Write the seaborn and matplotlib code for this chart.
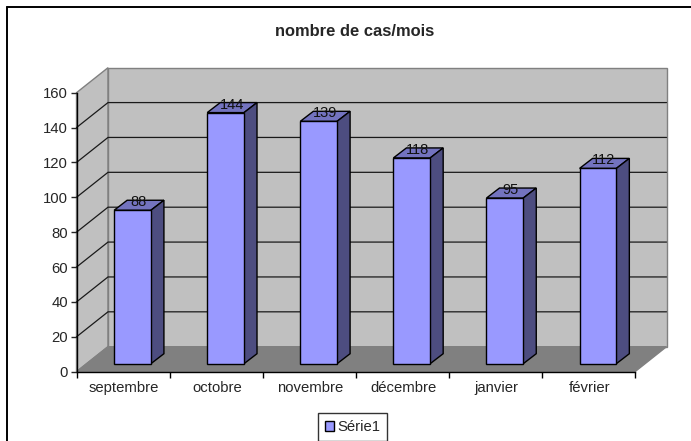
import matplotlib
matplotlib.use('Agg')
import matplotlib.pyplot as plt
import pandas as pd
import seaborn as sns
from matplotlib.patches import Polygon
from matplotlib.transforms import Affine2D

months = ['septembre', 'octobre', 'novembre', 'décembre', 'janvier', 'février']
cases = [88, 144, 139, 118, 95, 112]
series_name = 'Série1'
chart_title = 'nombre de cas/mois'
y_ticks = [0, 20, 40, 60, 80, 100, 120, 140, 160]

W, H = 691, 441
data = pd.DataFrame({'mois': months, 'cas': cases})

sns.set_style('ticks')
plt.rcParams['font.family'] = ['Liberation Sans', 'DejaVu Sans']

fig = plt.figure(figsize=(W / 100, H / 100), dpi=100)
fig.patch.set_facecolor('white')
ax = fig.add_axes([76.5 / W, 1 - 371.7 / H, 558.5 / W, 279 / H])
ax.patch.set_visible(False)
ax.set_zorder(1)

sns.barplot(data=data, x='mois', y='cas', color='#9999FF', saturation=1, width=0.395,
            edgecolor='black', linewidth=1, ax=ax, zorder=5, label=series_name)
handles, labels = ax.get_legend_handles_labels()
ax.get_legend().remove()
ax.set_xlim(-0.5, 5.5)
ax.set_ylim(0, 160)
ax.set_yticks(y_ticks)
ax.set_xlabel('')
ax.set_ylabel('')
fig.canvas.draw()

# depth of the fake 3d box, in pixels
DX, DY = 31.5, 25
bar_dx, bar_dy = 9.5, 8
side_dx, side_dy = 13, 10


def px(x, y, dx=0, dy=0):
    p = ax.transData.transform((x, y))
    return (p[0] + dx, p[1] + dy)


def face(points, color, edge, z, lw=1.0):
    fig.add_artist(Polygon(points, closed=True, facecolor=color, edgecolor=edge, linewidth=lw,
                           transform=None, zorder=z))


# walls and floor
face([px(-0.5, 0), px(-0.5, 160), px(-0.5, 160, DX, DY), px(-0.5, 0, DX, DY)], '#C0C0C0', '#808080', 0.1)
face([px(-0.5, 0, DX, DY), px(-0.5, 160, DX, DY), px(5.5, 160, DX, DY), px(5.5, 0, DX, DY)], '#C0C0C0', '#808080', 0.1)
face([px(-0.5, 0), px(5.5, 0), px(5.5, 0, DX, DY), px(-0.5, 0, DX, DY)], '#808080', '#808080', 0.2)

# gridlines on both walls
for v in y_ticks[1:-1]:
    xs, ys = zip(px(-0.5, v), px(-0.5, v, DX, DY), px(5.5, v, DX, DY))
    fig.add_artist(plt.Line2D(xs, ys, color='#1a1a1a', linewidth=0.9, transform=None, zorder=0.3))

# bars: shift the front faces, then add top and side
shift = Affine2D().translate(bar_dx, bar_dy)
for patch, n in zip(ax.patches, cases):
    patch.set_transform(ax.transData + shift)
    patch.set_clip_on(False)
    x0, x1 = patch.get_x(), patch.get_x() + patch.get_width()
    fl = px(x0, n, bar_dx, bar_dy)
    fr = px(x1, n, bar_dx, bar_dy)
    br = px(x1, 0, bar_dx, bar_dy)
    off = lambda p: (p[0] + side_dx, p[1] + side_dy)
    face([fl, fr, off(fr), off(fl)], '#7373BF', 'black', 0.6)
    face([fr, off(fr), off(br), br], '#4D4D80', 'black', 0.6)
    ax.annotate(str(n), xy=((x0 + x1) / 2, n), xycoords=ax.transData + shift,
                xytext=(6, 8), textcoords='offset pixels', ha='center', va='center',
                fontsize=10.5, color='#111111', zorder=6, annotation_clip=False)

# axes
sns.despine(ax=ax)
for s in ['left', 'bottom']:
    ax.spines[s].set_linewidth(1.0)
    ax.spines[s].set_color('black')
    ax.spines[s].set_zorder(7)
ax.set_xticks([-0.5 + i for i in range(7)], minor=True)
ax.tick_params(axis='x', which='major', length=0, pad=7, labelsize=10.7)
ax.tick_params(axis='x', which='minor', length=4, width=1, color='black')
ax.tick_params(axis='y', length=4, width=1, pad=2, labelsize=10.7)
for lab in ax.get_xticklabels():
    lab.set_transform(lab.get_transform() + Affine2D().translate(1.2, 0))

fig.text(355 / W, 1 - 32 / H, chart_title, ha='center', va='center', fontsize=11.85, fontweight='bold')

fig.legend(handles, labels, loc='center', bbox_to_anchor=(352.5 / W, 1 - 427 / H), fontsize=10.7,
           frameon=True, fancybox=False, edgecolor='#333333', framealpha=1, handlelength=0.62,
           handleheight=0.62, handletextpad=0.2, borderpad=0.45, borderaxespad=0)

# chart area frame, only top and left show in the crop
fig.add_artist(plt.Line2D([6.5, 6.5], [0, H - 6.5], color='black', linewidth=1.4, transform=None, zorder=8))
fig.add_artist(plt.Line2D([6.5, W], [H - 6.5, H - 6.5], color='black', linewidth=1.4, transform=None, zorder=8))

fig.savefig('out.png', dpi=100)
